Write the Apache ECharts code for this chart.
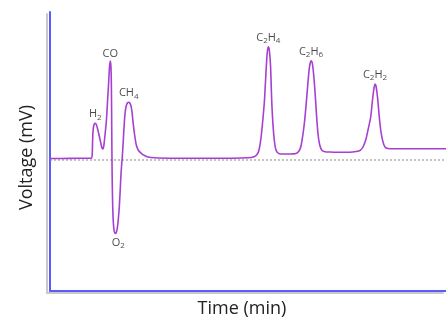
<!DOCTYPE html>
<html>
<head>
<meta charset="utf-8">
<script src="https://cdn.jsdelivr.net/npm/echarts@6/dist/echarts.min.js"></script>
<style>html,body{margin:0;padding:0;background:#fff}#c{width:446px;height:320px}</style>
</head>
<body>
<div id="c"></div>
<script>
// Chromatogram trace (time in min, voltage in mV, arbitrary scale)
const time = [0, 2, 3.8, 4.15, 4.22, 4.25, 4.29, 4.36, 4.44, 4.53, 4.63, 4.75, 4.87, 4.97, 5.08, 5.18, 5.27, 5.36, 5.45, 5.54, 5.63, 5.75, 5.87, 5.95, 6.03, 6.09, 6.13, 6.16, 6.19, 6.22, 6.27, 6.33, 6.40, 6.48, 6.56, 6.66, 6.76, 6.85, 6.93, 7.02, 7.10, 7.17, 7.23, 7.33, 7.43, 7.52, 7.62, 7.74, 7.87, 7.98, 8.10, 8.20, 8.30, 8.45, 8.63, 8.85, 9.13, 9.45, 9.80, 10.5, 12.0, 15.0, 18.0, 19.8, 20.4, 20.7, 20.9, 21.1, 21.3, 21.45, 21.6, 21.73, 21.83, 21.93, 22.05, 22.17, 22.3, 22.45, 22.6, 22.8, 23.1, 24.0, 24.6, 24.9, 25.1, 25.3, 25.45, 25.6, 25.75, 25.9, 26.0, 26.1, 26.2, 26.3, 26.43, 26.57, 26.7, 26.85, 27.0, 27.2, 27.5, 28.0, 29.0, 30.0, 30.6, 31.0, 31.3, 31.6, 31.8, 32.07, 32.25, 32.4, 32.5, 32.6, 32.75, 32.93, 33.1, 33.3, 33.5, 33.8, 34.5, 37.0, 39.6];
const voltage = [0.15, 0.16, 0.18, 0.20, 0.50, 1.50, 2.70, 3.35, 3.62, 3.67, 3.55, 3.15, 2.65, 2.20, 1.70, 1.25, 1.10, 1.30, 2.00, 2.90, 3.80, 5.80, 7.83, 9.30, 9.90, 9.40, 8.00, 5.00, 1.00, -2.00, -4.60, -6.20, -7.00, -7.30, -7.35, -7.15, -6.60, -5.70, -4.67, -3.00, -1.40, -0.40, 0.30, 2.00, 3.70, 4.80, 5.40, 5.70, 5.77, 5.70, 5.40, 4.80, 3.83, 2.60, 1.50, 0.95, 0.67, 0.45, 0.30, 0.22, 0.18, 0.17, 0.18, 0.22, 0.33, 0.55, 1.0, 2.2, 4.2, 6.0, 8.8, 10.8, 11.33, 11.0, 9.5, 6.0, 3.5, 1.8, 1.0, 0.7, 0.6, 0.6, 0.65, 0.9, 1.4, 2.6, 3.8, 5.4, 7.2, 8.9, 9.6, 9.93, 9.8, 9.2, 7.8, 5.8, 3.8, 2.2, 1.4, 0.95, 0.83, 0.8, 0.77, 0.78, 0.85, 0.95, 1.3, 2.1, 3.0, 4.3, 6.0, 7.2, 7.6, 7.4, 6.3, 4.3, 2.8, 1.8, 1.3, 1.15, 1.13, 1.13, 1.13];

// Peak labels
const peakNames = ['H2', 'CO', 'O2', 'CH4', 'C2H4', 'C2H6', 'C2H2'];
const peakTimes = [4.53, 6.03, 6.53, 7.87, 21.83, 26.1, 32.5];
const peakVolts = [3.67, 9.90, -7.35, 5.77, 11.33, 9.93, 7.6];

const baselineLevel = 0;
const timeRange = [0, 39.6];
const voltRange = [-13.1, 14.8];

function richName(n) {
  return n.replace(/([A-Z][a-z]?)(\d*)/g, function (m, el, num) {
    return '{n|' + el + '}' + (num ? '{s|' + num + '}' : '');
  });
}

const chart = echarts.init(document.getElementById('c'), null, {renderer: 'canvas'});
const axisLineStyle = {color: '#5a5aff', width: 2, shadowColor: '#c8c8c8', shadowBlur: 0.01, shadowOffsetX: -3, shadowOffsetY: 2};
chart.setOption({
  animation: false,
  grid: {left: 50, right: 0, top: 12, bottom: 29, containLabel: false, outerBoundsMode: 'none'},
  xAxis: {
    type: 'value', min: timeRange[0], max: timeRange[1],
    name: 'Time (min)', nameLocation: 'middle', nameGap: 9,
    nameTextStyle: {fontFamily: 'Open Sans', fontSize: 18, color: '#222', padding: [0, 12, 0, 0], verticalAlign: 'top'},
    axisLine: {onZero: false, lineStyle: axisLineStyle},
    axisTick: {show: false}, axisLabel: {show: false}, splitLine: {show: false}
  },
  yAxis: {
    type: 'value', min: voltRange[0], max: voltRange[1],
    name: 'Voltage (mV)', nameLocation: 'middle', nameGap: 14,
    nameTextStyle: {fontFamily: 'Open Sans', fontSize: 18, color: '#222', padding: [0, 12, 0, 0]},
    axisLine: {show: true, onZero: false, lineStyle: axisLineStyle},
    axisTick: {show: false}, axisLabel: {show: false}, splitLine: {show: false}
  },
  series: [
    {
      type: 'line', silent: true, symbol: 'none',
      data: [[timeRange[0], baselineLevel], [timeRange[1], baselineLevel]],
      lineStyle: {color: '#888', width: 1, type: [2, 2]}, z: 1
    },
    {
      type: 'line', symbol: 'none', smooth: 0.25,
      data: time.map((t, i) => [t, voltage[i]]),
      lineStyle: {color: '#a63fd2', width: 1.6}, z: 3
    },
    {
      type: 'scatter', symbolSize: 0,
      data: peakNames.map((n, i) => ({
        value: [peakTimes[i], peakVolts[i]], name: n,
        label: peakVolts[i] < 0 ? {position: 'bottom', distance: 2, offset: [3, 0]} : {position: 'top', distance: 2}
      })),
      label: {
        show: true,
        formatter: p => richName(p.name),
        rich: {
          n: {fontFamily: 'Open Sans', fontSize: 11, color: '#1a1a1a'},
          s: {fontFamily: 'Open Sans', fontSize: 8, color: '#1a1a1a', padding: [6, 0, 0, 0]}
        }
      },
      z: 4
    }
  ]
});
</script>
</body>
</html>
